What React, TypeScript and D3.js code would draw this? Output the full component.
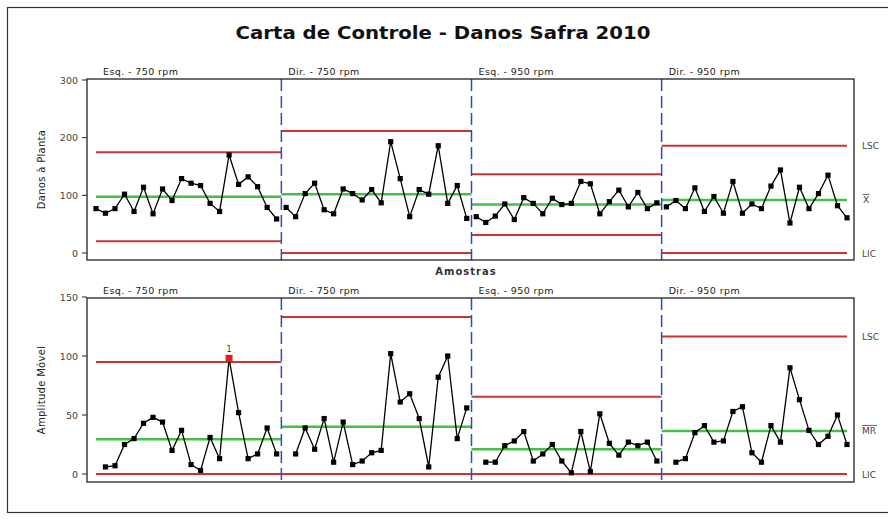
import * as d3 from "d3";

// fases (estágios) do ensaio
const phases = ["Esq. - 750 rpm", "Dir. - 750 rpm", "Esq. - 950 rpm", "Dir. - 950 rpm"];
const phaseStart = [1, 21, 41, 61];
const phaseEnd = [20, 40, 60, 80];

// valores individuais - danos à planta (amostras 1..80)
const danos = [
  77, 69, 77, 102, 72, 114, 68, 111, 91, 129,
  121, 117, 86, 72, 170, 119, 132, 115, 79, 59,
  79, 63, 103, 121, 75, 68, 111, 103, 92, 110,
  87, 193, 129, 63, 110, 102, 186, 86, 117, 60,
  63, 53, 64, 85, 58, 96, 86, 68, 95, 84,
  86, 124, 120, 68, 89, 109, 80, 105, 77, 87,
  80, 91, 77, 113, 72, 98, 69, 124, 69, 85,
  77, 116, 144, 52, 114, 77, 103, 135, 82, 61,
];

// amplitude móvel (primeira amostra de cada fase não tem valor)
const amplitude: (number | null)[] = [
  null, 6, 7, 25, 30, 43, 48, 44, 20, 37,
  8, 3, 31, 13, 98, 52, 13, 17, 39, 17,
  null, 17, 39, 21, 47, 10, 44, 8, 11, 18,
  20, 102, 61, 68, 47, 6, 82, 100, 30, 56,
  null, 10, 10, 24, 28, 36, 11, 17, 25, 11,
  1, 36, 2, 51, 26, 16, 27, 24, 27, 11,
  null, 10, 13, 35, 41, 27, 28, 53, 57, 18,
  10, 41, 27, 90, 63, 37, 25, 32, 50, 25,
];
const pontosFora = [15];

// limites por fase
const xCentro = [97.5, 102, 84, 92];
const xLSC = [174.5, 211.5, 136.5, 186];
const xLIC = [20.5, 0, 31, 0];
const mrCentro = [29.5, 40, 21, 36.5];
const mrLSC = [95, 133, 65.5, 116.5];
const mrLIC = [0, 0, 0, 0];

const ticksTop = [0, 100, 200, 300];
const ticksBot = [0, 50, 100, 150];

const W = 888;
const H = 520;
const left = 87;
const right = 854;
const font = "DejaVu Sans, Verdana, sans-serif";

const x = d3.scaleLinear().domain([1, 80]).range([96, 847]);

type PanelProps = {
  values: (number | null)[];
  y: d3.ScaleLinear<number, number>;
  top: number;
  bottom: number;
  ticks: number[];
  centro: number[];
  lsc: number[];
  lic: number[];
  yTitle: string;
  centerLabel: "X" | "MR";
  flagged: number[];
};

const Panel = ({ values, y, top, bottom, ticks, centro, lsc, lic, yTitle, centerLabel, flagged }: PanelProps) => {
  const line = d3
    .line<number | null>()
    .defined((d) => d != null)
    .x((_, i) => x(i + 1))
    .y((d) => y(d as number));

  const segX0 = (p: number) => Math.max(x(1), x(phaseStart[p] - 0.5));
  const segX1 = (p: number) => Math.min(x(80), x(phaseEnd[p] + 0.5));

  return (
    <g>
      {/* limites de controle */}
      {phases.map((_, p) => (
        <g key={"lim" + p}>
          <line x1={segX0(p)} x2={segX1(p)} y1={y(lsc[p])} y2={y(lsc[p])} stroke="#cc3333" strokeWidth={2} />
          <line x1={segX0(p)} x2={segX1(p)} y1={y(lic[p])} y2={y(lic[p])} stroke="#cc3333" strokeWidth={2} />
          <line x1={segX0(p)} x2={segX1(p)} y1={y(centro[p])} y2={y(centro[p])} stroke="#44c044" strokeWidth={2.5} />
        </g>
      ))}

      {/* separadores das fases */}
      {phaseStart.slice(1).map((s) => (
        <line key={"sep" + s} x1={x(s - 0.5)} x2={x(s - 0.5)} y1={top} y2={bottom}
          stroke="#2a48d0" strokeWidth={1.5} strokeDasharray="12,5" />
      ))}

      {/* série */}
      {phases.map((_, p) => (
        <path key={"ln" + p}
          d={line(values.map((v, i) => (i + 1 >= phaseStart[p] && i + 1 <= phaseEnd[p] ? v : null))) || ""}
          fill="none" stroke="#000" strokeWidth={1.3} />
      ))}
      {values.map((v, i) =>
        v == null ? null : (
          <rect key={"pt" + i}
            x={x(i + 1) - (flagged.includes(i + 1) ? 3.5 : 2.6)}
            y={y(v) - (flagged.includes(i + 1) ? 3.5 : 2.6)}
            width={flagged.includes(i + 1) ? 7 : 5.2}
            height={flagged.includes(i + 1) ? 7 : 5.2}
            fill={flagged.includes(i + 1) ? "#e02020" : "#000"} />
        )
      )}
      {flagged.map((f) => (
        <text key={"fl" + f} x={x(f)} y={y(values[f - 1] as number) - 6} fontSize={8} fontFamily={font}
          textAnchor="middle" fill="#333">1</text>
      ))}

      {/* caixa */}
      <rect x={left} y={top} width={right - left} height={bottom - top} fill="none" stroke="#222" strokeWidth={1.3} />

      {/* eixo y */}
      {ticks.map((t) => (
        <g key={"tk" + t}>
          <line x1={left - 5} x2={left} y1={y(t)} y2={y(t)} stroke="#222" strokeWidth={1} />
          <text x={left - 9} y={y(t) + 3.5} fontSize={9.5} fontFamily={font} textAnchor="end" fill="#444">{t}</text>
        </g>
      ))}
      <text transform={`translate(45,${(top + bottom) / 2}) rotate(-90)`} fontSize={10} fontFamily={font}
        textAnchor="middle" fill="#222" letterSpacing={0.3}>{yTitle}</text>

      {/* rótulos das fases */}
      {phases.map((ph, p) => (
        <text key={"ph" + p} x={Math.max(x(1), x(phaseStart[p] - 0.5)) + 7} y={top - 4} fontSize={9.5}
          fontFamily={font} fill="#222" letterSpacing={0.4}>{ph}</text>
      ))}

      {/* rótulos à direita */}
      <text x={862} y={y(lsc[3]) + 3.5} fontSize={9} fontFamily={font} fill="#444">LSC</text>
      <text x={862} y={y(lic[3]) + 3.5} fontSize={9} fontFamily={font} fill="#444">LIC</text>
      {centerLabel === "X" ? (
        <g>
          <text x={863} y={y(centro[3]) + 3.5} fontSize={9} fontFamily={font} fill="#444">X</text>
          <line x1={862.5} x2={869.5} y1={y(centro[3]) - 5.5} y2={y(centro[3]) - 5.5} stroke="#444" strokeWidth={0.8} />
        </g>
      ) : (
        <g>
          <text x={862} y={y(centro[3]) + 3.5} fontSize={9} fontFamily={font} fill="#444">MR</text>
          <line x1={862} x2={877} y1={y(centro[3]) - 5.5} y2={y(centro[3]) - 5.5} stroke="#444" strokeWidth={0.8} />
        </g>
      )}
    </g>
  );
};

const App = () => {
  const yTop = d3.scaleLinear().domain([0, 300]).range([253, 80]);
  const yBot = d3.scaleLinear().domain([0, 150]).range([474, 297]);

  return (
    <svg width={W} height={H} style={{ position: "absolute", left: 0, top: 0, background: "#fff" }}>
      <rect x={0} y={0} width={W} height={H} fill="#fff" />
      <rect x={7.5} y={7.5} width={W} height={505} fill="none" stroke="#333" strokeWidth={1.2} />

      <text x={443} y={39} fontSize={17.5} fontWeight="bold" fontFamily={font} textAnchor="middle" fill="#111"
        textLength={415} lengthAdjust="spacingAndGlyphs">
        Carta de Controle - Danos Safra 2010
      </text>

      <Panel values={danos} y={yTop} top={79} bottom={260} ticks={ticksTop} centro={xCentro} lsc={xLSC} lic={xLIC}
        yTitle="Danos à Planta" centerLabel="X" flagged={[]} />

      <text x={466} y={275} fontSize={10} fontWeight="bold" fontFamily={font} textAnchor="middle" fill="#333"
        letterSpacing={1}>Amostras</text>

      <Panel values={amplitude} y={yBot} top={298} bottom={482} ticks={ticksBot} centro={mrCentro} lsc={mrLSC}
        lic={mrLIC} yTitle="Amplitude Móvel" centerLabel="MR" flagged={pontosFora} />
    </svg>
  );
};

export default App;
